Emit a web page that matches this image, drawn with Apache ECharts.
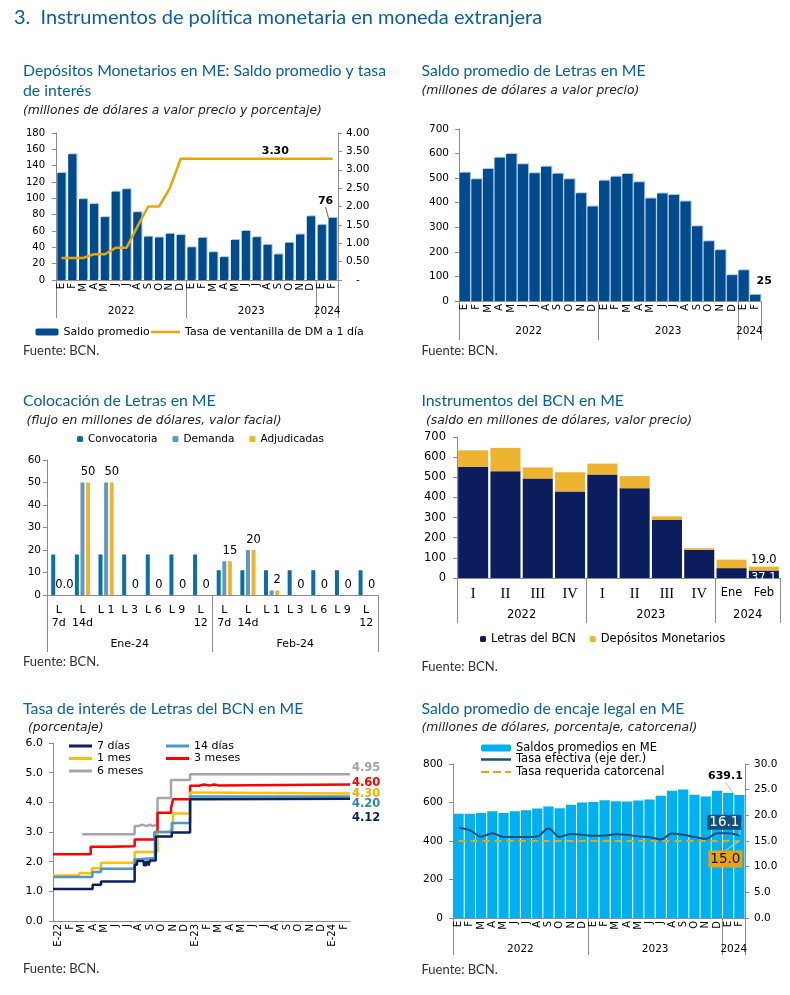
<!DOCTYPE html>
<html><head><meta charset="utf-8">
<script src="https://cdn.jsdelivr.net/npm/echarts@6/dist/echarts.min.js"></script>
<style>html,body{margin:0;padding:0;background:#fff}#c{width:790px;height:995px}</style>
</head><body><div id="c"></div>
<script>
// ---------- DATA ----------
const monthLetters = ['E','F','M','A','M','J','J','A','S','O','N','D'];
const monthCats = monthLetters.concat(monthLetters, ['E','F']);
const yearLabels = ['2022','2023','2024'];
const yearTicks = [0,12,24,26];
const yearLabelPos = [6,18,25];

// Panel 1: Depósitos monetarios
const dmSaldo = [131,154,99,93,77,108,111,83,53,52,56.5,55,40,51.6,34,28,49,60,52.4,43,31.3,45.5,55.7,78,67.5,76];
const dmTasa = [0.6,0.6,0.6,0.7,0.7,0.875,0.875,1.45,2.0,2.0,2.5,3.3,3.3,3.3,3.3,3.3,3.3,3.3,3.3,3.3,3.3,3.3,3.3,3.3,3.3,3.3];

// Panel 2: Saldo promedio de Letras
const letrasSaldo = [522,495,537,583,598,557,520,546,518,495,439,385,489,506,517,483,417,438,431,405,304,243,207,105,125,25];

// Panel 3: Colocación de Letras
const colocCats = ['L\n7d','L\n14d','L 1','L 3','L 6','L 9','L\n12','L\n7d','L\n14d','L 1','L 3','L 6','L 9','L\n12'];
const colocGroups = ['Ene-24','Feb-24'];
const colocGroupTicks = [0,7,14];
const colocGroupPos = [3.5,10.5];
const convocatoria = [18,18,18,18,18,18,18,11,11,11,11,11,11,11];
const demanda = [0,50,50,0,0,0,0,15,20,2,0,0,0,0];
const adjudicadas = [0,50,50,0,0,0,0,15,20,2,0,0,0,0];

// Panel 4: Instrumentos del BCN
const instCats = ['I','II','III','IV','I','II','III','IV','Ene','Feb'];
const instYearTicks = [0,4,8,10];
const instYearPos = [2,6,9];
const letrasBCN = [552,530,494,430,514,446,288,140,49,37.1];
const depMonetarios = [82,116,55,95,54,60,18,8,42,19.0];

// Panel 5: Tasa de interés de Letras (x = mes desde E-22)
const tasaMonthLabels = ['E-22','F','M','A','M','J','J','A','S','O','N','D','E-23','F','M','A','M','J','J','A','S','O','N','D','E-24','F'];
const tasa7d = [[-0.5,1.08],[2.97,1.22],[3.7,1.33],[6.65,1.9],[6.85,2.02],[7.45,1.88],[7.65,2.0],[7.85,1.87],[8.0,2.04],[8.5,2.85],[9.9,2.98],[11.5,4.1],[11.8,4.12],[25.5,4.12]];
const tasa14d = [[-0.5,1.48],[2.95,1.65],[3.7,1.76],[6.65,2.08],[7.0,2.12],[8.42,3.0],[9.9,3.3],[11.5,4.2],[25.5,4.2]];
const tasa1m = [[-0.5,1.53],[1.8,1.62],[2.1,1.6],[2.9,1.78],[3.7,1.96],[6.65,2.33],[8.65,3.0],[9.8,3.08],[10.0,3.62],[11.5,4.33],[11.8,4.3],[25.5,4.3]];
const tasa3m = [[-0.5,2.25],[2.8,2.5],[4.5,2.52],[6.65,2.75],[8.4,3.0],[8.65,3.65],[9.83,3.78],[10.0,4.1],[11.5,4.56],[12.3,4.6],[12.7,4.57],[13.2,4.6],[13.6,4.57],[14.0,4.6],[25.5,4.6]];
const tasa6m = [[2.06,2.92],[6.65,3.2],[6.95,3.25],[7.3,3.2],[7.7,3.25],[8.0,3.2],[8.2,3.25],[8.65,4.15],[9.83,4.75],[11.5,4.95],[25.5,4.95]];

// Panel 6: Encaje legal
const encajeSaldo = [541,541,546,555,546,555,560,569,579,570,588,600,603,612,607,605,610,616,635,661,668,640,631,661,649,639.1];
const tasaEfectiva = [17.6,17.1,15.85,16.5,15.8,15.8,15.8,15.9,17.45,15.8,16.35,16.2,16.0,16.05,16.3,16.2,15.9,15.75,15.3,16.45,16.2,15.8,15.4,16.5,16.5,16.1];
const tasaRequerida = [15,15,15,15,15,15,15,15,15,15,15,15,15,15,15,15,15,15,15,15,15,15,15,15,15,15.0];

// ---------- STYLE HELPERS ----------
const SANS = "'DejaVu Sans', Verdana, sans-serif";
const HEAD = "Lato, 'Noto Sans', sans-serif";
const SERIF = "'Liberation Serif', 'DejaVu Serif', serif";
const AX = '#8c8c8c';
const TXT = '#000';
const TITLE_C = '#0a5fa6';
const DASH_ICON = 'path://M0,0h8v2h-8z M12,0h8v2h-8z M24,0h6v2h-6z';

function head(text, left, top, size, lh) {
  return {text, left, top, padding:0, textStyle:{fontFamily:HEAD, fontSize:size, fontWeight:'normal', color:TITLE_C, lineHeight:lh}};
}
function sub(text, left, top) {
  return {text, left, top, padding:0, textStyle:{fontFamily:SANS, fontStyle:'italic', fontSize:12.3, fontWeight:'normal', color:'#222', lineHeight:15}};
}
function src(left, top) {
  return {text:'Fuente: BCN.', left, top, padding:0, textStyle:{fontFamily:HEAD, fontSize:13, fontWeight:'normal', color:'#333', lineHeight:16}};
}
function catX(gridIndex, data, labelOpt) {
  return {type:'category', gridIndex, data,
    axisLine:{show:true, onZero:false, lineStyle:{color:AX}}, axisTick:{show:false}, splitLine:{show:false},
    axisLabel:Object.assign({interval:0, fontFamily:SANS, color:TXT}, labelOpt)};
}
function groupX(gridIndex, ticks, pos, labels, len, margin, fontSize) {
  return {type:'value', gridIndex, position:'bottom', min:ticks[0], max:ticks[ticks.length-1],
    axisLine:{show:false, onZero:false}, splitLine:{show:false},
    axisTick:{show:true, customValues:ticks, length:len, lineStyle:{color:AX}},
    axisLabel:{show:true, customValues:pos, margin, fontSize, fontFamily:SANS, color:TXT,
      formatter:v => labels[pos.indexOf(v)]}};
}
function valY(gridIndex, min, max, interval, position, labelOpt) {
  return {type:'value', gridIndex, min, max, interval, position,
    axisLine:{show:true, onZero:false, lineStyle:{color:AX}},
    axisTick:{show:true, length:4, lineStyle:{color:AX}}, splitLine:{show:false},
    axisLabel:Object.assign({fontFamily:SANS, color:TXT, fontSize:10.5, margin:10}, labelOpt)};
}
const legTxt = (fs, lh) => ({fontFamily:SANS, fontSize:fs, color:TXT, lineHeight:lh});
const bevel = {shadowColor:'#a7c8e6', shadowOffsetX:1, shadowOffsetY:-1, shadowBlur:0};
function leg(o) { return Object.assign({padding:0, selectedMode:false}, o); }

const option = {
  animation:false,
  backgroundColor:'#fff',
  title:[
    head('3.  Instrumentos de política monetaria en moneda extranjera', 14, 5.5, 20, 24),
    head('Depósitos Monetarios en ME: Saldo promedio y tasa\nde interés', 23, 61, 15.8, 20),
    sub('(millones de dólares a valor precio y porcentaje)', 23, 103),
    src(23, 343),
    head('Saldo promedio de Letras en ME', 421.5, 61, 15.8, 20),
    sub('(millones de dólares a valor precio)', 421.5, 83),
    src(421.5, 343),
    head('Colocación de Letras en ME', 23, 391, 15.8, 20),
    sub('(flujo en millones de dólares, valor facial)', 26.5, 413),
    src(23, 653.5),
    head('Instrumentos del BCN en ME', 421.5, 391, 15.8, 20),
    sub('(saldo en millones de dólares, valor precio)', 426, 413),
    src(421.5, 659),
    head('Tasa de interés de Letras del BCN en ME', 23, 699, 15.8, 20),
    sub('(porcentaje)', 28, 720),
    src(23, 961),
    head('Saldo promedio de encaje legal en ME', 421.5, 699, 15.8, 20),
    sub('(millones de dólares, porcentaje, catorcenal)', 421.5, 720),
    src(421.5, 962)
  ],
  legend:[
    leg({left:35.5, top:325.5, itemWidth:23, itemHeight:7, data:['Saldo promedio'], textStyle:legTxt(11,13)}),
    leg({left:151, top:325.5, itemWidth:29, itemHeight:2.5, icon:'rect', data:['Tasa de ventanilla de DM a 1 día'], textStyle:legTxt(11,13)}),
    leg({left:77, top:432.5, itemWidth:6, itemHeight:6, itemGap:15, data:['Convocatoria','Demanda','Adjudicadas'], textStyle:legTxt(10.5,13)}),
    leg({left:480, top:632, itemWidth:6, itemHeight:6, itemGap:14, data:['Letras del BCN','Depósitos Monetarios'], textStyle:legTxt(11.5,14)}),
    leg({left:69, top:740, orient:'vertical', icon:'rect', itemWidth:23, itemHeight:3, itemGap:0.5, data:['7 días','1 mes','6 meses'], textStyle:legTxt(11,12)}),
    leg({left:166, top:740, orient:'vertical', icon:'rect', itemWidth:23, itemHeight:3, itemGap:0.5, data:['14 días','3 meses'], textStyle:legTxt(11,12)}),
    leg({left:481, top:742, itemWidth:30, itemHeight:7, data:['Saldos promedios en ME'], textStyle:legTxt(11.5,12)}),
    leg({left:481, top:753.5, itemWidth:30, itemHeight:2.5, icon:'rect', data:['Tasa efectiva (eje der.)'], textStyle:legTxt(11.5,12)}),
    leg({left:481, top:766, itemWidth:30, itemHeight:2.5, icon:DASH_ICON, data:['Tasa requerida catorcenal'], textStyle:legTxt(11.5,12)})
  ],
  grid:[
    {left:56, top:133, width:282, height:147, outerBoundsMode:'none'},
    {left:459, top:129, width:302, height:172, outerBoundsMode:'none'},
    {left:47, top:460, width:331, height:135, outerBoundsMode:'none'},
    {left:457, top:437, width:323, height:141, outerBoundsMode:'none'},
    {left:53, top:743, width:297, height:178, outerBoundsMode:'none'},
    {left:453, top:764, width:292, height:154, outerBoundsMode:'none'}
  ],
  xAxis:[
    catX(0, monthCats, {rotate:90, margin:3, fontSize:10}),                       //0
    groupX(0, yearTicks, yearLabelPos, yearLabels, 38, 26, 10.5),                 //1
    catX(1, monthCats, {rotate:90, margin:3, fontSize:10}),                       //2
    groupX(1, yearTicks, yearLabelPos, yearLabels, 39, 25, 10.5),                 //3
    catX(2, colocCats, {margin:8.5, fontSize:11, lineHeight:13}),                 //4
    groupX(2, colocGroupTicks, colocGroupPos, colocGroups, 57, 43.5, 11),         //5
    catX(3, instCats, {margin:9, formatter:v => (v==='Ene'||v==='Feb') ? '{s|'+v+'}' : '{r|'+v+'}',
      rich:{r:{fontFamily:SERIF, fontSize:14.5, color:TXT}, s:{fontFamily:SANS, fontSize:11.5, color:TXT}}}), //6
    groupX(3, instYearTicks, instYearPos, yearLabels, 45, 31, 11.5),              //7
    {type:'value', gridIndex:4, min:-0.5, max:25.5,
      axisLine:{show:true, onZero:false, lineStyle:{color:AX}}, axisTick:{show:false}, splitLine:{show:false},
      axisLabel:{customValues:tasaMonthLabels.map((_, i) => i), formatter:v => tasaMonthLabels[Math.round(v)],
        rotate:90, margin:3, fontSize:10, fontFamily:SANS, color:TXT}},          //8
    catX(5, monthCats, {rotate:90, margin:3, fontSize:10}),                       //9
    groupX(5, yearTicks, yearLabelPos, yearLabels, 37, 25.5, 10.5)                //10
  ],
  yAxis:[
    valY(0, 0, 180, 20, 'left', {fontSize:10, margin:11}),                        //0
    valY(0, 0, 4, 0.5, 'right', {fontSize:10.5, margin:8, formatter:v => v===0 ? '   -' : v.toFixed(2)}), //1
    valY(1, 0, 700, 100, 'left', {fontSize:10.5, margin:10}),                     //2
    valY(2, 0, 60, 10, 'left', {fontSize:10.5, margin:6}),                        //3
    valY(3, 0, 700, 100, 'left', {fontSize:11.5, margin:11}),                     //4
    valY(4, 0, 6, 1, 'left', {fontSize:11, margin:10, formatter:v => v.toFixed(1)}), //5
    valY(5, 0, 800, 200, 'left', {fontSize:10.5, margin:10}),                     //6
    valY(5, 0, 30, 5, 'right', {fontSize:10.5, margin:9, formatter:v => v.toFixed(1)}) //7
  ],
  series:[
    // Panel 1
    {type:'bar', name:'Saldo promedio', xAxisIndex:0, yAxisIndex:0, barCategoryGap:'24%',
      itemStyle:Object.assign({color:'#004b8d'}, bevel),
      data:dmSaldo.map((v,i) => i===dmSaldo.length-1 ? {value:v, label:{show:true}} : v),
      label:{show:false, position:'top', fontFamily:SANS, fontWeight:'bold', fontSize:11, color:TXT},
      labelLayout:{dx:-7, dy:-6}, labelLine:{show:true, lineStyle:{color:'#444', width:0.8}}},
    {type:'line', name:'Tasa de ventanilla de DM a 1 día', xAxisIndex:0, yAxisIndex:1, symbol:'none',
      lineStyle:{color:'#eba500', width:2.5}, itemStyle:{color:'#eba500'},
      data:dmTasa.map((v,i) => i===20 ? {value:v, symbol:'circle', symbolSize:1, label:{show:true}} : v),
      label:{show:false, position:'top', distance:2, offset:[-3,0], fontFamily:SANS, fontWeight:'bold', fontSize:11, color:TXT,
        formatter:p => p.value.toFixed(2)}},
    // Panel 2
    {type:'bar', name:'Saldo Letras', xAxisIndex:2, yAxisIndex:2, barCategoryGap:'11%',
      itemStyle:Object.assign({color:'#004b8d'}, bevel),
      data:letrasSaldo.map((v,i) => i===letrasSaldo.length-1 ? {value:v, label:{show:true}} : v),
      label:{show:false, position:'top', offset:[9,-3], fontFamily:SANS, fontWeight:'bold', fontSize:11, color:TXT}},
    // Panel 3
    {type:'bar', name:'Convocatoria', xAxisIndex:4, yAxisIndex:3, barWidth:4, barGap:'40%',
      itemStyle:{color:'#0a6ea8'}, data:convocatoria},
    {type:'bar', name:'Demanda', xAxisIndex:4, yAxisIndex:3, barWidth:4, barGap:'40%',
      itemStyle:{color:'#5b9bc9'}, data:demanda},
    {type:'bar', name:'Adjudicadas', xAxisIndex:4, yAxisIndex:3, barWidth:4, barGap:'40%',
      itemStyle:{color:'#f2b42a'}, data:adjudicadas,
      label:{show:true, position:'top', distance:4, fontFamily:SANS, fontSize:11.5, color:TXT,
        formatter:p => p.dataIndex===0 ? p.value.toFixed(1) : String(p.value)}},
    // Panel 4
    {type:'bar', name:'Letras del BCN', xAxisIndex:6, yAxisIndex:4, stack:'inst', barCategoryGap:'7%',
      itemStyle:{color:'#0c1d5e'},
      data:letrasBCN.map((v,i) => i===letrasBCN.length-1 ? {value:v, label:{show:true}} : v),
      label:{show:false, position:'insideTop', distance:1, fontFamily:SANS, fontSize:11.5, color:'#fff'}},
    {type:'bar', name:'Depósitos Monetarios', xAxisIndex:6, yAxisIndex:4, stack:'inst', barCategoryGap:'7%',
      itemStyle:{color:'#efb332'},
      data:depMonetarios.map((v,i) => i===depMonetarios.length-1 ? {value:v, label:{show:true}} : v),
      label:{show:false, position:'top', distance:1, fontFamily:SANS, fontSize:11.5, color:TXT,
        formatter:p => p.value.toFixed(1)}},
    // Panel 5
    {type:'line', name:'6 meses', xAxisIndex:8, yAxisIndex:5, step:'end', symbol:'none', data:tasa6m,
      lineStyle:{color:'#a6a6a6', width:2.5}, itemStyle:{color:'#a6a6a6'},
      endLabel:{show:true, distance:2, offset:[0,-6.5], formatter:p => p.value[1].toFixed(2), fontFamily:SANS, fontWeight:'bold', fontSize:11.5, color:'#a6a6a6'}},
    {type:'line', name:'3 meses', xAxisIndex:8, yAxisIndex:5, step:'end', symbol:'none', data:tasa3m,
      lineStyle:{color:'#ff0000', width:2.5}, itemStyle:{color:'#ff0000'},
      endLabel:{show:true, distance:2, offset:[0,-2], formatter:p => p.value[1].toFixed(2), fontFamily:SANS, fontWeight:'bold', fontSize:11.5, color:'#ff0000'}},
    {type:'line', name:'1 mes', xAxisIndex:8, yAxisIndex:5, step:'end', symbol:'none', data:tasa1m,
      lineStyle:{color:'#ffc000', width:2.5}, itemStyle:{color:'#ffc000'},
      endLabel:{show:true, distance:2, offset:[0,1], formatter:p => p.value[1].toFixed(2), fontFamily:SANS, fontWeight:'bold', fontSize:11.5, color:'#f5b000'}},
    {type:'line', name:'14 días', xAxisIndex:8, yAxisIndex:5, step:'end', symbol:'none', data:tasa14d,
      lineStyle:{color:'#4e97c8', width:2.5}, itemStyle:{color:'#4e97c8'},
      endLabel:{show:true, distance:2, offset:[0,7.5], formatter:p => p.value[1].toFixed(2), fontFamily:SANS, fontWeight:'bold', fontSize:11.5, color:'#2e86c1'}},
    {type:'line', name:'7 días', xAxisIndex:8, yAxisIndex:5, step:'end', symbol:'none', data:tasa7d,
      lineStyle:{color:'#0c1f5e', width:2.5}, itemStyle:{color:'#0c1f5e'},
      endLabel:{show:true, distance:2, offset:[0,19], formatter:p => p.value[1].toFixed(2), fontFamily:SANS, fontWeight:'bold', fontSize:11.5, color:'#0c1f5e'}},
    // Panel 6
    {type:'bar', name:'Saldos promedios en ME', xAxisIndex:9, yAxisIndex:6, barCategoryGap:'9%',
      itemStyle:{color:'#00b0f0'},
      data:encajeSaldo.map((v,i) => i===encajeSaldo.length-1 ? {value:v, label:{show:true}} : v),
      label:{show:false, position:'top', fontFamily:SANS, fontWeight:'bold', fontSize:11, color:TXT},
      labelLayout:{dx:-14, dy:-8}, labelLine:{show:true, lineStyle:{color:'#bbbbbb', width:1}}},
    {type:'line', name:'Tasa efectiva (eje der.)', xAxisIndex:9, yAxisIndex:7, symbol:'none', smooth:0.35,
      lineStyle:{color:'#1b4f80', width:2}, itemStyle:{color:'#1b4f80'},
      data:tasaEfectiva.map((v,i) => i===tasaEfectiva.length-1 ? {value:v, symbol:'circle', symbolSize:1, label:{show:true}} : v),
      label:{show:false, position:'top', distance:4, fontFamily:SANS, fontSize:13.5, color:'#fff', backgroundColor:'#134e84', padding:[1,2,0,2]},
      labelLayout:{dx:-15, dy:-1}, labelLine:{show:true, lineStyle:{color:'#cfcfcf', width:1}}},
    {type:'line', name:'Tasa requerida catorcenal', xAxisIndex:9, yAxisIndex:7, symbol:'none',
      lineStyle:{color:'#f0a500', width:2, type:[7,5]}, itemStyle:{color:'#f0a500'},
      data:tasaRequerida.map((v,i) => i===tasaRequerida.length-1 ? {value:v, symbol:'circle', symbolSize:1, label:{show:true}} : v),
      label:{show:false, position:'bottom', distance:4, fontFamily:SANS, fontSize:13.5, color:'#111', backgroundColor:'#e6a314', padding:[2,2,1,2],
        formatter:p => p.value.toFixed(1)},
      labelLayout:{dx:-14, dy:5}, labelLine:{show:true, lineStyle:{color:'#cfcfcf', width:1}}}
  ]
};

const chart = echarts.init(document.getElementById('c'));
chart.setOption(option);
</script></body></html>
